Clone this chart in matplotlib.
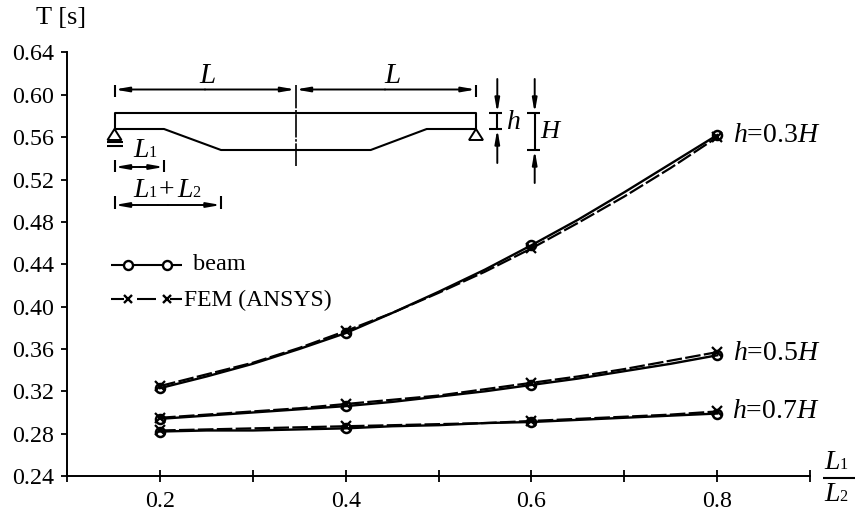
import matplotlib
matplotlib.use("Agg")
import matplotlib.pyplot as plt
from matplotlib.patches import Polygon

plt.rcParams['font.family'] = ['Liberation Serif', 'DejaVu Serif']
plt.rcParams['mathtext.fontset'] = 'custom'
plt.rcParams['mathtext.rm'] = 'Liberation Serif'
plt.rcParams['mathtext.it'] = 'Liberation Serif:italic'

# values
ratios = [0.2, 0.25, 0.3, 0.35, 0.4, 0.45, 0.5, 0.55, 0.6, 0.65, 0.7, 0.75, 0.8]
beam_03 = [0.323, 0.334, 0.346, 0.360, 0.375, 0.394, 0.414, 0.435, 0.458, 0.482, 0.508, 0.535, 0.562]
fem_03 = [0.325, 0.336, 0.347, 0.361, 0.377, 0.394, 0.413, 0.433, 0.455, 0.479, 0.504, 0.531, 0.560]
beam_05 = [0.294, 0.297, 0.300, 0.303, 0.306, 0.310, 0.315, 0.320, 0.326, 0.332, 0.339, 0.346, 0.354]
fem_05 = [0.295, 0.298, 0.301, 0.304, 0.308, 0.312, 0.316, 0.322, 0.328, 0.334, 0.341, 0.349, 0.357]
beam_07 = [0.282, 0.283, 0.283, 0.284, 0.285, 0.287, 0.288, 0.290, 0.291, 0.293, 0.295, 0.297, 0.299]
fem_07 = [0.283, 0.284, 0.285, 0.286, 0.287, 0.288, 0.289, 0.290, 0.292, 0.294, 0.296, 0.298, 0.301]

y_ticks = [0.24, 0.28, 0.32, 0.36, 0.40, 0.44, 0.48, 0.52, 0.56, 0.60, 0.64]
x_major = [0.2, 0.4, 0.6, 0.8]
x_minor = [0.1, 0.3, 0.5, 0.7, 0.9]

W, H = 855, 511
FS = 17.3


def main():
    fig = plt.figure(figsize=(W / 100, H / 100), dpi=100)
    ax = fig.add_axes([67.3 / W, 1 - 476 / H, (810 - 67.3) / W, (476 - 52.5) / H])
    ax.set_xlim(0.1, 0.9)
    ax.set_ylim(0.24, 0.64)

    for s in ('top', 'right'):
        ax.spines[s].set_visible(False)
    for s in ('left', 'bottom'):
        ax.spines[s].set_linewidth(1.4)

    for beam, fem in ((beam_03, fem_03), (beam_05, fem_05), (beam_07, fem_07)):
        ax.plot(ratios, fem, color='black', lw=1.6, ls=(0, (7, 1.5)), marker='x', ms=6.5,
                mew=1.6, markevery=4, clip_on=False)
        ax.plot(ratios, beam, color='black', lw=1.7, marker='o', ms=6.5, mew=1.8,
                mfc='none', markevery=4, clip_on=False)

    ax.set_yticks(y_ticks)
    ax.set_yticklabels([f"{v:.2f}" for v in y_ticks], fontsize=FS)
    ax.set_xticks(x_major)
    ax.set_xticklabels([str(v) for v in x_major], fontsize=FS)
    ax.set_xticks(x_minor, minor=True)
    ax.tick_params(axis='y', length=4, width=1.3, pad=5.5)
    ax.tick_params(axis='x', which='both', direction='inout', length=9, width=1.3, pad=6)

    # overlay in pixel coordinates for the sketch and the labels
    ov = fig.add_axes([0, 0, 1, 1], facecolor='none')
    ov.set_xlim(0, W)
    ov.set_ylim(H, 0)
    ov.axis('off')

    def line(xs, ys, lw=1.5, **kw):
        ov.plot(xs, ys, color='black', lw=lw, solid_capstyle='butt', **kw)

    def arrow(x0, y0, x1, y1):
        ov.annotate('', xy=(x1, y1), xytext=(x0, y0),
                    arrowprops=dict(arrowstyle='-|>,head_length=0.8,head_width=0.14', color='black',
                                    lw=1.4, shrinkA=0, shrinkB=0))

    def txt(x, y, s, ha='left', size=FS, **kw):
        ov.text(x, y, s, ha=ha, va='center', fontsize=size, **kw)

    def sub_l(x, y, digit, size=20):
        # italic L with a small upright index, sits closer than mathtext does
        ov.text(x, y, 'L', ha='left', va='baseline', fontsize=size, fontstyle='italic')
        ov.text(x + size * 0.78, y, digit, ha='left', va='baseline', fontsize=size * 0.58)

    # beam outline
    line([114.5, 114.5, 476, 476], [129, 113, 113, 129])
    line([114.5, 164, 221, 370.7, 426.7, 476], [129, 129, 150, 150, 129, 129])
    line([295.5, 295.5], [85, 166], lw=1.2, ls=(0, (14, 1, 1.5, 1)))

    # supports
    for cx in (114.5, 476):
        ov.add_patch(Polygon([(cx, 129), (cx - 7, 140), (cx + 7, 140)], closed=True,
                             fc='white', ec='black', lw=1.4))
    line([107, 123], [142.5, 142.5])
    line([107, 123], [146.5, 146.5])

    # length dimensions
    for x in (114.5, 476):
        line([x, x], [85, 97])
    arrow(205, 89.5, 114.5, 89.5)
    arrow(205, 89.5, 295.5, 89.5)
    arrow(385, 89.5, 295.5, 89.5)
    arrow(385, 89.5, 476, 89.5)
    ov.text(207, 83, 'L', ha='center', va='baseline', fontsize=21, fontstyle='italic')
    ov.text(392, 83, 'L', ha='center', va='baseline', fontsize=21, fontstyle='italic')

    line([114.5, 114.5], [160, 172])
    line([164, 164], [160, 172])
    arrow(140, 167, 114.5, 167)
    arrow(140, 167, 164, 167)
    sub_l(133, 157, '1')

    line([114.5, 114.5], [196, 209])
    line([221, 221], [196, 209])
    arrow(168, 205, 114.5, 205)
    arrow(168, 205, 221, 205)
    sub_l(133, 197, '1')
    ov.text(159, 197, '+', ha='left', va='baseline', fontsize=20)
    sub_l(177, 197, '2')

    # height dimensions
    line([489, 502], [113, 113])
    line([489, 502], [129, 129])
    line([497.3, 497.3], [113, 129])
    arrow(497.3, 79, 497.3, 113)
    arrow(497.3, 163, 497.3, 129)
    ov.text(507, 129, 'h', ha='left', va='baseline', fontsize=20, fontstyle='italic')

    line([527, 540], [113, 113])
    line([527, 540], [150, 150])
    line([534.7, 534.7], [113, 150])
    arrow(534.7, 79, 534.7, 113)
    arrow(534.7, 183, 534.7, 150)
    ov.text(540, 138, 'H', ha='left', va='baseline', fontsize=19, fontstyle='italic')

    # legend
    line([111, 182], [265, 265], lw=1.5)
    ov.plot([128, 167], [265, 265], ls='none', marker='o', ms=6.5, mew=1.7, mfc='white', color='black')
    line([111, 124], [299, 299], lw=1.5)
    line([137, 156], [299, 299], lw=1.5)
    line([170, 182], [299, 299], lw=1.5)
    ov.plot([128, 167], [299, 299], ls='none', marker='x', ms=6, mew=1.7, color='black')
    txt(193, 265, 'beam', size=17.5)
    txt(184, 300, 'FEM (ANSYS)', size=17)

    # curve labels
    txt(733, 135, '$h$=0.3$H$', size=20)
    txt(733, 354, '$h$=0.5$H$', size=20)
    txt(732, 412, '$h$=0.7$H$', size=20)

    # axis titles
    txt(36, 18, 'T [s]', size=19)
    sub_l(824, 469, '1')
    line([823, 855], [478, 478])
    sub_l(824, 501, '2')

    fig.savefig('out.png', dpi=100)
    plt.close(fig)


if __name__ == "__main__":
    main()
